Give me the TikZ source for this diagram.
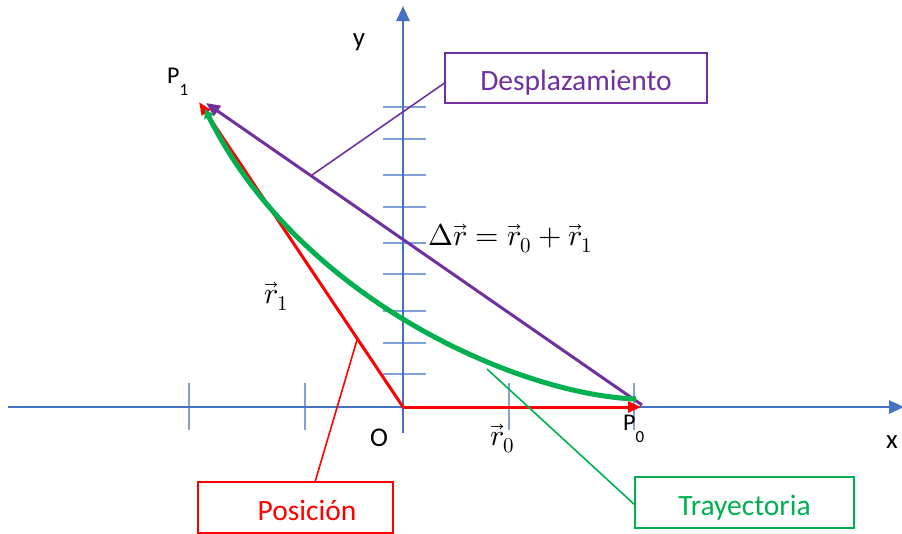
\documentclass[tikz,border=0pt]{standalone}
\usepackage{fontspec}
\usepackage{unicode-math}
\setmainfont{Carlito}
\setmathfont{Latin Modern Math}
\usetikzlibrary{arrows.meta}
\definecolor{axisblue}{HTML}{4472C4}
\definecolor{tickblue}{HTML}{82A0D8}
\definecolor{purp}{HTML}{7030A0}
\definecolor{grn}{HTML}{00B050}
\definecolor{rd}{HTML}{FF0000}
\newcommand{\lbl}{\fontsize{27}{30}\selectfont}
\newcommand{\subl}[1]{\raisebox{-12pt}{\fontsize{17}{17}\selectfont #1}}
\begin{document}
\begin{tikzpicture}[x=1pt,y=-1pt,
  axis/.style={axisblue,line width=2.6pt,-{Triangle[length=15pt,width=13pt]}},
  tick/.style={tickblue,line width=1.5pt},
  vec/.style={line width=3pt},
  callout/.style={draw,line width=2pt,minimum width=#1,minimum height=50pt,inner sep=0pt,font=\fontsize{29.5}{31}\selectfont,text depth=0pt},
  lead/.style={line width=1.6pt},
  lab/.style={inner sep=0pt,font=\lbl},
  mlab/.style={inner sep=0pt,font=\fontsize{30}{32}\selectfont}]
\useasboundingbox (0,0) rectangle (902,533);
% coordinates
\coordinate (O) at (403,407);
\coordinate (P0) at (641,407);
\coordinate (P1) at (199,102);
\coordinate (xs) at (8,407);
\coordinate (xe) at (904,407);
\coordinate (ys) at (403,433);
\coordinate (ye) at (403,6);
% ticks
\foreach \yy in {107,139,175,207,243,274,311,343,374}
  \draw[tick] (383,\yy) -- (426,\yy);
\foreach \xx in {189,305,509,634}
  \draw[tick] (\xx,383) -- (\xx,430);
% axes
\draw[axis] (xs) -- (xe);
\draw[axis] (ys) -- (ye);
% vectors
\draw[vec,rd,-{Triangle[length=13pt,width=11pt]}] (O) -- (P0);
\draw[vec,rd,-{Triangle[length=13pt,width=10pt]}] (O) -- (P1);
\coordinate (D0) at (642,405);
\coordinate (D1) at (206,103);
\draw[vec,purp,-{Triangle[length=14pt,width=12pt]}] (D0) -- (D1);
\coordinate (G0) at (636,399);
\coordinate (G1) at (205,109);
\draw[grn,line width=5pt,-{Triangle[length=9pt,width=10pt]}] (G0) .. controls (520,395) and (300,300) .. (G1);
% callout boxes
\node[callout=262pt,purp] (desp) at (576,78) {\raisebox{-5pt}{Desplazamiento}};
\node[callout=195pt,rd,minimum height=51pt] (pos) at (295,507.5) {\raisebox{-6pt}{\hspace*{24pt}Posición}};
\node[callout=219pt,grn,minimum height=51pt] (tray) at (744.5,502.5) {\raisebox{-6pt}{Trayectoria}};
% leader lines
\coordinate (dA) at (312,175);
\coordinate (dB) at (446,82);
\draw[lead,purp] (dA) -- (dB);
\coordinate (pA) at (357,340);
\coordinate (pB) at (315,482);
\draw[lead,rd] (pA) -- (pB);
\coordinate (tA) at (487,369);
\coordinate (tB) at (635,505);
\draw[lead,grn] (tA) -- (tB);
% labels
\node[lab,anchor=base] (ylab) at (359,46) {y};
\node[lab,anchor=base] (xlab) at (892,448) {x};
\node[lab,anchor=base] (olab) at (379,446) {O};
\node[lab,anchor=base west,font=\fontsize{24}{26}\selectfont] (p1lab) at (167,83) {P\subl{1}};
\node[lab,anchor=base west,font=\fontsize{24}{26}\selectfont] (p0lab) at (623,430) {P\subl{0}};
\node[mlab,anchor=base west] (eq) at (428,245) {$\Delta\vec{r}=\vec{r}_0+\vec{r}_1$};
\node[mlab,anchor=base west] (r0) at (490,445) {$\vec{r}_0$};
\node[mlab,anchor=base west] (r1) at (264,303) {$\vec{r}_1$};
\end{tikzpicture}
\end{document}
